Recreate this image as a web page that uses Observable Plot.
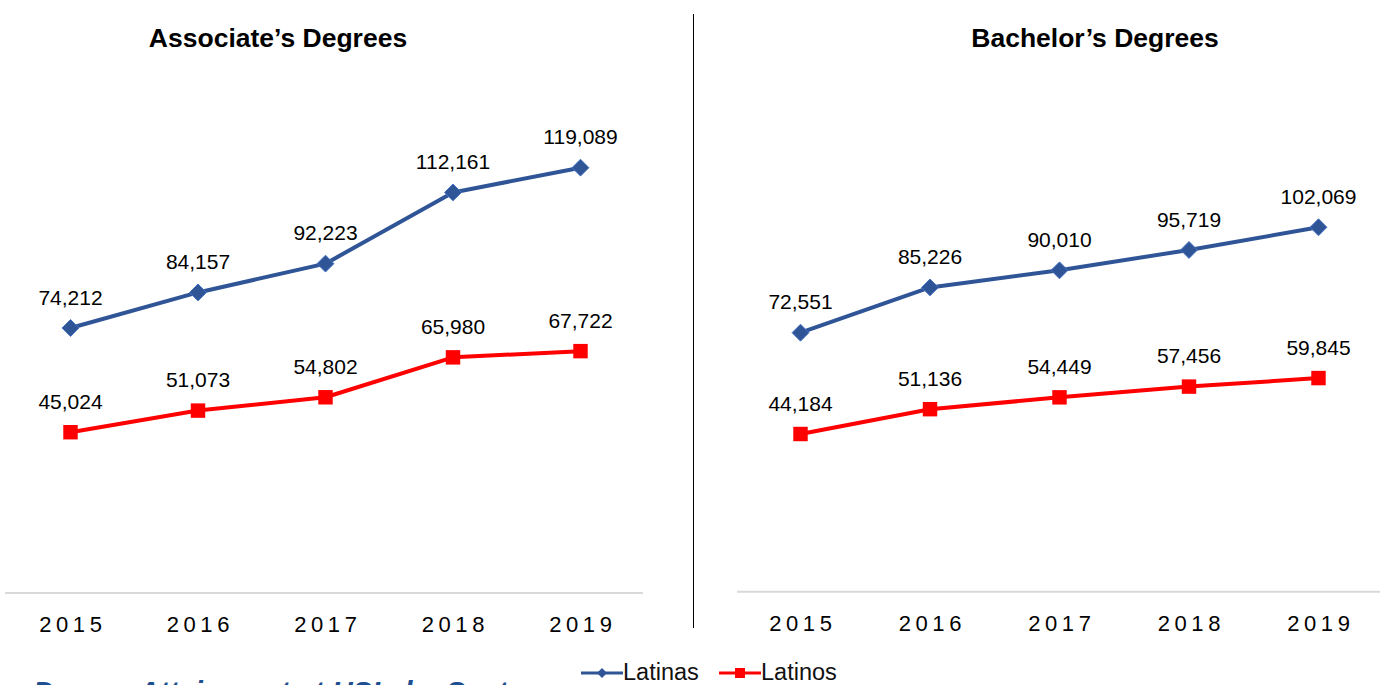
<!DOCTYPE html>
<html><head><meta charset="utf-8">
<script src="https://cdn.jsdelivr.net/npm/d3@7"></script>
<script src="https://cdn.jsdelivr.net/npm/@observablehq/plot@0.6"></script>
<style>
body{margin:0;background:#fff;font-family:"Liberation Sans",Arial,sans-serif;}
#wrap{position:relative;width:1384px;height:685px;overflow:hidden;background:#fff;}
.title{position:absolute;top:25px;font-size:26.5px;line-height:26px;font-weight:bold;color:#000;text-align:center;white-space:nowrap;}
.panel{position:absolute;top:0;}
#divider{position:absolute;left:693px;top:14px;width:1px;height:614px;background:#000;}
#legend{position:absolute;left:0;top:655px;height:34px;}
.legitem{position:absolute;top:0;height:34px;display:flex;align-items:center;font-family:"Liberation Sans Narrow","Arial Narrow","Liberation Sans",sans-serif;font-size:23.5px;color:#111;}
#foot{position:absolute;left:33px;top:678px;font-size:29px;line-height:29px;font-weight:bold;font-style:italic;color:#1d4f91;white-space:nowrap;}
</style></head><body>
<div id="wrap">
  <div id="left" class="panel" style="left:0"></div>
  <div id="right" class="panel" style="left:693px"></div>
  <div class="title" style="left:0;width:556px">Associate’s Degrees</div>
  <div class="title" style="left:795px;width:600px">Bachelor’s Degrees</div>
  <div id="divider"></div>
  <div id="legend"></div>
  <div id="foot"></div>
</div>
<script>
// ---- data ----
const years = [2015, 2016, 2017, 2018, 2019];
const associateLatinas = [74212, 84157, 92223, 112161, 119089];
const associateLatinos = [45024, 51073, 54802, 65980, 67722];
const bachelorLatinas = [72551, 85226, 90010, 95719, 102069];
const bachelorLatinos = [44184, 51136, 54449, 57456, 59845];
const seriesNames = ["Latinas", "Latinos"];
const panelTitles = ["Associate’s Degrees", "Bachelor’s Degrees"];
const footText = "Degree Attainment at HSIs by Sector";

const BLUE = "#2f5597", BLUE_EDGE = "#4472c4", RED = "#ff0000";
const FONT = "Liberation Sans, Arial, sans-serif";

function rows(a, b) {
  const out = [];
  years.forEach((y, i) => {
    out.push({year: y, value: a[i], series: seriesNames[0]});
    out.push({year: y, value: b[i], series: seriesNames[1]});
  });
  return out;
}

function panel(data, opts) {
  const lat = data.filter(d => d.series === "Latinas");
  const lno = data.filter(d => d.series === "Latinos");
  const chart = Plot.plot({
    width: opts.width,
    height: 650,
    marginLeft: opts.ml,
    marginRight: opts.mr,
    marginTop: 0,
    marginBottom: 0,
    style: {fontFamily: FONT, background: "transparent", overflow: "visible"},
    x: {type: "linear", domain: [2015, 2019], range: opts.xr, axis: null},
    y: {domain: [0, 140000], range: opts.yr, axis: null},
    marks: [
      Plot.ruleY([0], {stroke: "#d9d9d9", strokeWidth: 2}),
      Plot.text(years, {x: d => d, y: () => 0, dy: 32, dx: 2.3, text: d => String(d), fontSize: 22, fill: "#000"}),
      Plot.line(lat, {x: "year", y: "value", stroke: BLUE, strokeWidth: 4}),
      Plot.line(lno, {x: "year", y: "value", stroke: RED, strokeWidth: 4}),
      Plot.dot(lat, {x: "year", y: "value", symbol: "diamond2", r: 7.6, fill: BLUE, stroke: BLUE_EDGE, strokeWidth: 1}),
      Plot.dot(lno, {x: "year", y: "value", symbol: "square2", r: 9.2, fill: RED, stroke: RED, strokeWidth: 0}),
      Plot.text(data, {x: "year", y: "value", dy: -30, text: d => d3.format(",")(d.value), fontSize: 21, fill: "#000"})
    ]
  });
  // widen the spacing of the year tick labels, as in the reference
  const yearStrings = years.map(String);
  d3.select(chart).selectAll("text").filter(function() { return yearStrings.includes(this.textContent); })
    .style("letter-spacing", "4.6px");
  return chart;
}

const leftChart = panel(rows(associateLatinas, associateLatinos), {width: 693, ml: 5, mr: 50, xr: [70, 580], yr: [592.5, 92.5]});
const rightChart = panel(rows(bachelorLatinas, bachelorLatinos), {width: 691, ml: 44, mr: 4, xr: [107, 625], yr: [591.3, 91.3]});
document.getElementById("left").appendChild(leftChart);
document.getElementById("right").appendChild(rightChart);

// legend
const legend = document.getElementById("legend");
const legItems = [
  {name: seriesNames[0], color: BLUE, symbol: "diamond", left: 581},
  {name: seriesNames[1], color: RED, symbol: "square", left: 719}
];
legItems.forEach(it => {
  const div = document.createElement("div");
  div.className = "legitem";
  div.style.left = it.left + "px";
  const svg = d3.create("svg").attr("width", 42).attr("height", 34);
  svg.append("line").attr("x1", 0).attr("x2", 42).attr("y1", 18).attr("y2", 18).attr("stroke", it.color).attr("stroke-width", 3);
  if (it.symbol === "diamond") {
    svg.append("path").attr("d", "M21,13 L26,18 L21,23 L16,18 Z").attr("fill", it.color);
  } else {
    svg.append("rect").attr("x", 16).attr("y", 13).attr("width", 10).attr("height", 10).attr("fill", it.color);
  }
  div.appendChild(svg.node());
  const span = document.createElement("span");
  span.textContent = it.name;
  div.appendChild(span);
  legend.appendChild(div);
});

document.getElementById("foot").textContent = footText;
</script>
</body></html>
